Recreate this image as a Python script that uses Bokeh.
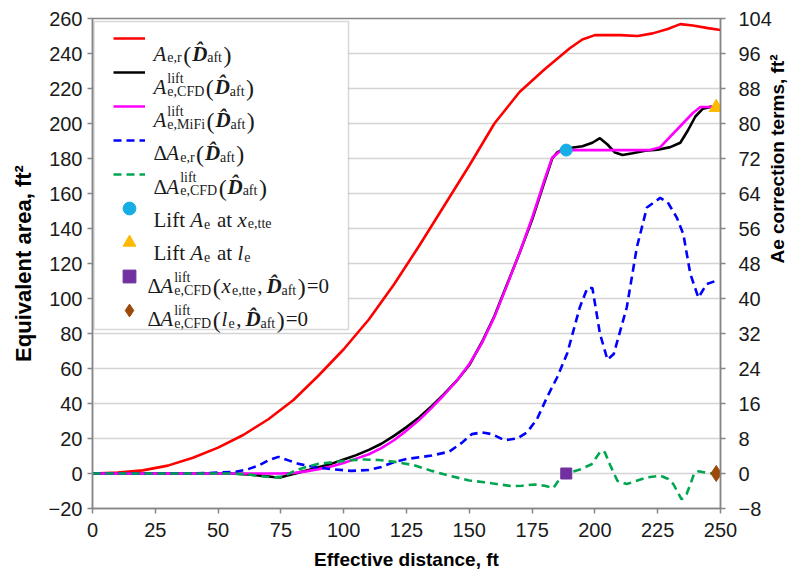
import math
from bokeh.plotting import figure
from bokeh.models import (Range1d, LinearAxis, FixedTicker, Legend, LegendItem,
                          BoxAnnotation, Label)
from bokeh.embed import file_html
from bokeh.resources import INLINE

# ---------------- data ----------------
x_ticks = [0, 25, 50, 75, 100, 125, 150, 175, 200, 225, 250]
y_ticks = [-20, 0, 20, 40, 60, 80, 100, 120, 140, 160, 180, 200, 220, 240, 260]
y2_ticks = [-8, 0, 8, 16, 24, 32, 40, 48, 56, 64, 72, 80, 88, 96, 104]

# A_e,r (left axis)
x_red = [0, 10, 20, 30, 40, 50, 60, 70, 80, 90, 100, 110, 120, 130, 140, 150, 160, 170,
         180, 190, 195, 200, 210, 217, 223, 229, 234, 239, 245, 250]
y_red = [0, 0.5, 1.8, 4.5, 9, 14.8, 22, 31, 42, 56, 71, 88, 108, 130, 153, 176, 200, 218,
         231, 243, 248, 250.5, 250.5, 250, 251.5, 254, 256.8, 256, 254.5, 253.4]

# A_e,CFD lift (left axis)
x_cfd = [0, 20, 40, 55, 62, 67, 72, 75, 78, 82, 86, 90, 95, 100, 105, 110, 115, 120, 125, 130,
         135, 140, 145, 150, 155, 160, 165, 170, 175, 180, 183, 185, 187, 190, 195, 199, 202, 205,
         208, 211, 215, 220, 225, 230, 234, 237, 240, 243, 246, 248]
y_cfd = [0, 0, 0, 0, -0.5, -1.2, -2, -2.2, -1, 0.5, 2, 3.5, 5.5, 8, 10.5, 13.5, 17, 21.5, 26.5, 32,
         38.5, 45.5, 53, 62, 75, 90, 108, 126, 145, 167, 180, 183.5, 185, 186, 187, 189, 191.6, 188,
         183.4, 182, 183, 184.5, 185, 186.5, 189, 196, 204, 208.5, 209.5, 209.5]

# A_e,MiFi lift (left axis)
x_mifi = [0, 75, 80, 85, 90, 95, 100, 105, 110, 115, 120, 125, 130, 135, 140, 145, 150, 155, 160,
          165, 170, 175, 180, 183, 186, 188, 222, 226, 231, 235, 239, 242, 248]
y_mifi = [0, 0, 0.3, 1.2, 2.5, 4, 6, 8.5, 11, 14.5, 19, 24.5, 30.5, 37.5, 45, 53, 62.5, 74.5, 89.5,
          107.5, 126, 146, 168, 180.5, 184, 184.8, 184.8, 186.5, 194, 200, 206, 209.4, 209.4]

# Delta A_e,r (right axis)
x_dar = [0, 40, 50, 57, 62, 66, 70, 74, 78, 82, 88, 95, 103, 110, 115, 120, 125, 135, 142, 147,
         151, 155, 159, 164, 169, 173, 177, 181, 185, 189, 194, 197, 199, 202, 205, 207.5, 212.7,
         216.7, 220.7, 226, 229, 232.6, 235.2, 238, 241.2, 244.5, 248]
y_dar = [0, 0, 0.2, 0.4, 1, 1.8, 3, 3.8, 3, 2.2, 1.5, 1, 0.6, 0.8, 1.5, 2.6, 3.3, 4.1, 5, 7,
         9, 9.4, 9, 7.6, 8, 9.4, 12.5, 17.5, 22, 27.5, 38, 42.4, 42.4, 32, 26, 27.3, 38,
         51.7, 60.8, 63, 62, 58.5, 54.7, 45.6, 40.2, 43.3, 44]

# Delta A_e,CFD lift (right axis)
x_dcfd = [0, 55, 62, 67, 72, 76, 80, 85, 90, 96, 102, 108, 114, 121, 128, 135, 142, 150, 156, 162,
          167, 171, 176, 180, 183.5, 186, 188.6, 194, 198.7, 202.4, 204, 206, 209, 212.7, 216,
          220.7, 226, 229, 231.2, 234.5, 236.5, 238, 239.5, 241.2, 245, 248]
y_dcfd = [0, 0, -0.2, -0.6, -0.9, -0.7, 0.5, 1.5, 2.2, 2.6, 3, 3.2, 3.1, 2.6, 1.9, 0.6, -0.5, -1.6, -2, -2.5,
          -2.9, -2.8, -2.5, -2.8, -3.3, -1.2, 0, 0.9, 2.1, 5.2, 4.8, 2, -1.7, -2.4, -1.8,
          -0.9, -0.5, -1.2, -2.4, -5.9, -4.7, -2.5, 0, 0.5, 0.1, 0]

# markers
tte_x, tte_y = [188.6], [184.8]        # Lift Ae at x_e,tte (left)
le_x, le_y = [248.3], [209.2]          # Lift Ae at l_e (left)
sq_x, sq_y = [188.6], [0]              # dA(x_e,tte)=0 (right)
dm_x, dm_y = [248.3], [0]              # dA(l_e)=0 (right)

# ---------------- figure ----------------
AX = "#868686"
SANS = "Liberation Sans"
BL, BT = 92, 18          # left / top borders (px)

p = figure(frame_width=628, frame_height=490,
           min_border_left=BL, min_border_right=63, min_border_top=BT, min_border_bottom=65,
           x_range=Range1d(0, 250), y_range=Range1d(-20, 260),
           output_backend="svg", toolbar_location=None)
p.extra_y_ranges = {"right": Range1d(-8, 104)}
p.outline_line_color = AX
p.outline_line_width = 1.5
p.xgrid.visible = False
p.ygrid.grid_line_color = "#d4d4d4"
p.ygrid.grid_line_width = 1.5

def style_axis(ax, standoff, lab_standoff, lab_size):
    ax.axis_line_color = AX
    ax.axis_line_width = 1.5
    ax.major_tick_line_color = AX
    ax.major_tick_line_width = 1.5
    ax.major_tick_out = 5
    ax.major_tick_in = 0
    ax.minor_tick_line_color = None
    ax.major_label_text_font = SANS
    ax.major_label_text_font_size = "20px"
    ax.major_label_text_color = "#1a1a1a"
    ax.major_label_standoff = standoff
    ax.axis_label_text_font = SANS
    ax.axis_label_text_font_size = lab_size
    ax.axis_label_text_font_style = "bold"
    ax.axis_label_text_color = "#000000"
    ax.axis_label_standoff = lab_standoff

p.xaxis.ticker = FixedTicker(ticks=x_ticks)
p.xaxis.axis_label = "Effective distance, ft"
style_axis(p.xaxis[0], 9, 9, "19px")
p.yaxis.ticker = FixedTicker(ticks=y_ticks)
p.yaxis.axis_label = "Equivalent area, ft²"
style_axis(p.yaxis[0], 5, 10, "22px")

ax2 = LinearAxis(y_range_name="right", ticker=FixedTicker(ticks=y2_ticks),
                 axis_label="Ae correction terms, ft²")
style_axis(ax2, 13, 3, "19px")
ax2.axis_label_orientation = math.pi / 2
p.add_layout(ax2, "right")

LW = 2.6
r_red = p.line(x_red, y_red, line_color="#ff0000", line_width=LW)
r_cfd = p.line(x_cfd, y_cfd, line_color="#000000", line_width=LW)
r_mifi = p.line(x_mifi, y_mifi, line_color="#ff00ff", line_width=LW)
r_dar = p.line(x_dar, y_dar, line_color="#0000ff", line_width=LW, line_dash="8 5",
               y_range_name="right")
r_dcfd = p.line(x_dcfd, y_dcfd, line_color="#00a550", line_width=LW, line_dash="8 5",
                y_range_name="right")
r_tte = p.scatter(tte_x, tte_y, marker="circle", size=12, fill_color="#17aee6", line_color="#17aee6")
r_le = p.scatter(le_x, le_y, marker="triangle", size=14, fill_color="#ffb900", line_color="#ffb900")
r_sq = p.scatter(sq_x, sq_y, marker="square", size=11, fill_color="#7030a0", line_color="#7030a0",
                 y_range_name="right")
r_dm = p.scatter(dm_x, dm_y, marker="diamond", size=16,
                 fill_color="#9c4a0c", line_color="#9c4a0c", y_range_name="right")

# ---------------- legend ----------------
FB = BT + 490.0   # page y of frame bottom
FL = float(BL)    # page x of frame left
box = BoxAnnotation(left=93.5 - FL, right=348 - FL, top=FB - 21, bottom=FB - 329,
                    left_units="screen", right_units="screen", top_units="screen", bottom_units="screen",
                    fill_color="white", fill_alpha=1.0, line_color="#7f7f7f", line_width=1.5,
                    level="underlay")
p.add_layout(box)

ROW_H = 34
legend_renderers = [r_red, r_cfd, r_mifi, r_dar, r_dcfd, r_tte, r_le, r_sq, r_dm]
items = [LegendItem(label=" ", renderers=[r]) for r in legend_renderers]
leg_top = 21.3
leg_bottom = leg_top + ROW_H * len(items)
leg = Legend(items=items, location=(113 - FL, FB - leg_bottom), glyph_width=32, glyph_height=ROW_H,
             label_height=ROW_H, label_width=1, label_standoff=0, padding=0, spacing=0, margin=0,
             border_line_alpha=0, background_fill_alpha=0, label_text_font_size="1px")
p.add_layout(leg)

NB = "\u00a0"
W_N = {' ': 250, NB: 250, '(': 333, ')': 333, ',': 250, '=': 564, '0': 500, 'a': 444, 'e': 444,
       'f': 333, 'i': 278, 'l': 278, 'r': 333, 't': 278, 'x': 500, 'A': 722, 'C': 667, 'D': 722,
       'F': 556, 'L': 611, 'M': 889, 'Δ': 612}
W_I = dict(W_N, A=611, x=444, l=278)
W_BI = dict(W_N, D=667)

def tw(s, size, tbl):
    return sum(tbl.get(c, 500) for c in s if c != "\u0302") * size / 1000.0

DH = "D\u0302"
rows = [
    [("A", "mi"), ("e,r", "sub"), ("(", "p"), (DH, "mb"), ("aft", "sub"), (")", "p")],
    [("A", "mi"), (("lift", "e,CFD"), "stk"), ("(", "p"), (DH, "mb"), ("aft", "sub"), (")", "p")],
    [("A", "mi"), (("lift", "e,MiFi"), "stk"), ("(", "p"), (DH, "mb"), ("aft", "sub"), (")", "p")],
    [("Δ", "m"), ("A", "mi"), ("e,r", "sub"), ("(", "p"), (DH, "mb"), ("aft", "sub"), (")", "p")],
    [("Δ", "m"), ("A", "mi"), (("lift", "e,CFD"), "stk"), ("(", "p"), (DH, "mb"), ("aft", "sub"), (")", "p")],
    [("Lift" + NB, "m"), ("A", "mi"), ("e", "sub"), (NB + "at" + NB, "m"), ("x", "mi"), ("e,tte", "sub")],
    [("Lift" + NB, "m"), ("A", "mi"), ("e", "sub"), (NB + "at" + NB, "m"), ("l", "mi"), ("e", "sub")],
    [("Δ", "m"), ("A", "mi"), (("lift", "e,CFD"), "stk"), ("(", "p"), ("x", "mi"), ("e,tte", "sub"),
     (",", "m"), (DH, "mb"), ("aft", "sub"), (")", "p"), ("=0", "m")],
    [("Δ", "m"), ("A", "mi"), (("lift", "e,CFD"), "stk"), ("(", "p"), ("l", "mi"), ("e", "sub"),
     (",", "m"), (DH, "mb"), ("aft", "sub"), (")", "p"), ("=0", "m")],
]
MAIN, PAR, SUB = 21, 24, 14
SERIF = "Liberation Serif"
TXT = "#1a1a1a"

def put(txt, x, y, size, style):
    p.add_layout(Label(x=x, y=y, x_units="screen", y_units="screen", text=txt,
                       text_font=SERIF, text_font_size=f"{size}px", text_font_style=style,
                       text_color=TXT, text_baseline="alphabetic", text_align="left"))

for i, row in enumerate(rows):
    xp = (153.0 if i < 7 else 147.0) - FL
    yb = FB - (53.3 + 33.2 * i)
    for txt, kind in row:
        if kind == "m":
            put(txt, xp, yb, MAIN, "normal"); xp += tw(txt, MAIN, W_N) + (4 if txt == "," else 0)
        elif kind == "mi":
            put(txt, xp, yb, MAIN, "italic"); xp += tw(txt, MAIN, W_I) + 1
        elif kind == "mb":
            put(txt, xp, yb, MAIN, "bold italic"); xp += tw(txt, MAIN, W_BI) + 1
        elif kind == "p":
            put(txt, xp, yb - 1, PAR, "normal"); xp += tw(txt, PAR, W_N) + 1
        elif kind == "sub":
            put(txt, xp, yb - 4, SUB, "normal"); xp += tw(txt, SUB, W_N) + 1.5
        elif kind == "stk":
            sup, sb = txt
            put(sup, xp, yb + 9, SUB, "normal")
            put(sb, xp, yb - 4, SUB, "normal")
            xp += max(tw(sup, SUB, W_N), tw(sb, SUB, W_N)) + 1.5

open("out.html", "w").write(file_html(p, INLINE))
